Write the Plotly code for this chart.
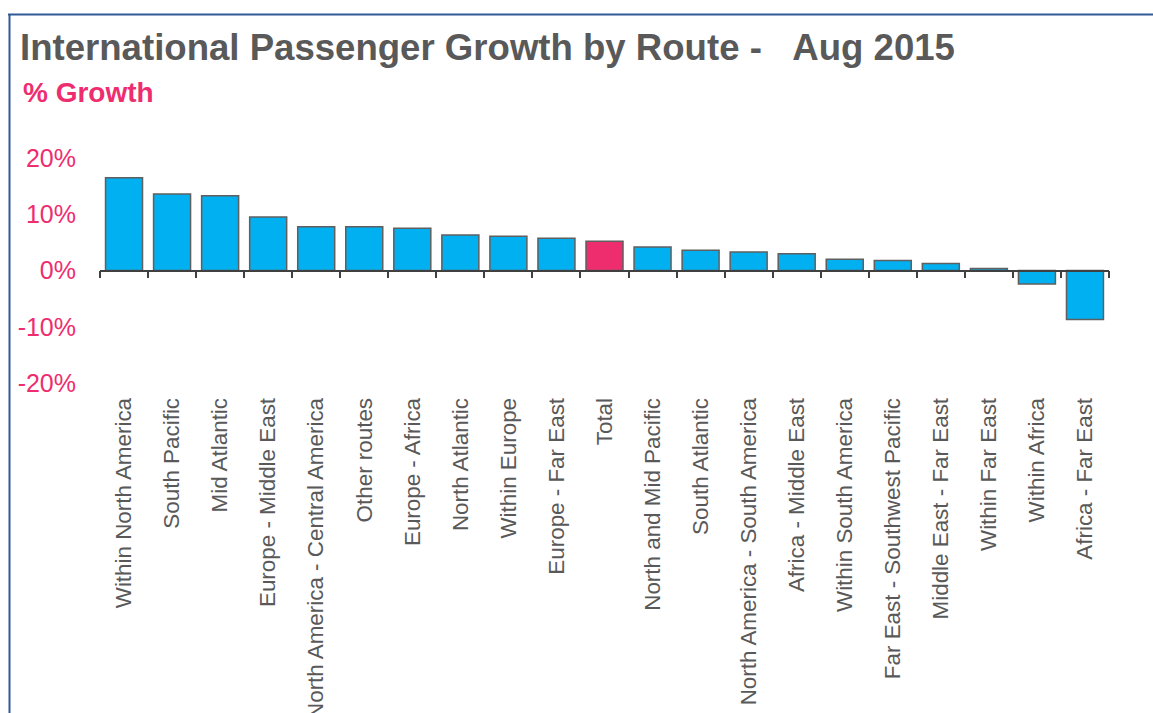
import plotly.graph_objects as go

# International passenger growth by route, August 2015 (% year-on-year)
routes = [
    "Within North America", "South Pacific", "Mid Atlantic", "Europe - Middle East",
    "North America - Central America", "Other routes", "Europe - Africa",
    "North Atlantic", "Within Europe", "Europe - Far East", "Total",
    "North and Mid Pacific", "South Atlantic", "North America - South America",
    "Africa - Middle East", "Within South America", "Far East - Southwest Pacific",
    "Middle East - Far East", "Within Far East", "Within Africa", "Africa - Far East",
]
growth = [16.5, 13.6, 13.3, 9.5, 7.8, 7.8, 7.5, 6.3, 6.1, 5.75, 5.2,
          4.2, 3.6, 3.3, 3.0, 2.0, 1.8, 1.25, 0.35, -2.4, -8.7]
y_ticks = [-20, -10, 0, 10, 20]
y_tick_text = ["-20%", "-10%", "0%", "10%", "20%"]

BLUE = "#00B0F0"
PINK = "#EE2D6F"
GREY_TEXT = "#595959"
FRAME = "#2F5A95"
FONT = "Liberation Sans, Arial, sans-serif"

W, H = 1153, 713
L, R, T, B = 100, 44, 158, 330
pw, ph = W - L - R, H - T - B


def px_x(p):
    return (p - L) / pw


def px_y(p):
    return (H - B - p) / ph


colors = [PINK if r == "Total" else BLUE for r in routes]

fig = go.Figure()
fig.add_trace(go.Bar(
    x=routes, y=growth,
    marker=dict(color=colors, line=dict(color="#5f5f5f", width=1.5)),
    width=0.77, hoverinfo="x+y",
))
# invisible companion trace that carries the zero-line axis with boundary ticks
fig.add_trace(go.Scatter(
    x=routes, y=[0] * len(routes), xaxis="x2", mode="markers",
    marker=dict(opacity=0), hoverinfo="skip", showlegend=False,
))

fig.update_layout(
    width=W, height=H,
    margin=dict(l=L, r=R, t=T, b=B, autoexpand=False),
    paper_bgcolor="white", plot_bgcolor="white",
    showlegend=False,
    font=dict(family=FONT, color=GREY_TEXT),
    title=dict(
        text="<b>International Passenger Growth by Route -\u00a0\u00a0\u00a0Aug 2015</b>",
        font=dict(family=FONT, size=36.6, color=GREY_TEXT),
        xref="container", yref="container",
        x=20 / W, xanchor="left", y=1 - 34 / H, yanchor="top",
    ),
    xaxis=dict(
        type="category", categoryorder="array", categoryarray=routes,
        range=[-0.5, len(routes) - 0.5],
        showline=False, showgrid=False, zeroline=False,
        ticks="outside", ticklen=5, tickcolor="rgba(0,0,0,0)",
        tickangle=-90, tickfont=dict(size=22.4, color=GREY_TEXT),
        fixedrange=True,
    ),
    xaxis2=dict(
        type="category", categoryorder="array", categoryarray=routes,
        range=[-0.5, len(routes) - 0.5],
        overlaying="x", anchor="free", position=0.5,
        showline=True, linecolor="#404040", linewidth=1.5,
        ticks="outside", tickson="boundaries", ticklen=7, tickwidth=1.5,
        tickcolor="#404040", showticklabels=False, showgrid=False,
        zeroline=False, fixedrange=True,
    ),
    yaxis=dict(
        range=[-20, 20], tickvals=y_ticks, ticktext=y_tick_text,
        tickfont=dict(size=25, color=PINK),
        showgrid=False, zeroline=False, showline=False,
        ticks="outside", ticklen=18, tickcolor="rgba(0,0,0,0)",
        fixedrange=True,
    ),
    annotations=[dict(
        text="<b>% Growth</b>", xref="paper", yref="paper",
        x=px_x(21), y=px_y(75), xanchor="left", yanchor="top",
        showarrow=False, font=dict(family=FONT, size=28, color=PINK),
    )],
    shapes=[
        dict(type="line", xref="paper", yref="paper",
             x0=px_x(8), x1=px_x(W + 5), y0=px_y(14.5), y1=px_y(14.5),
             line=dict(color=FRAME, width=2)),
        dict(type="line", xref="paper", yref="paper",
             x0=px_x(9.5), x1=px_x(9.5), y0=px_y(14), y1=px_y(H + 5),
             line=dict(color=FRAME, width=2)),
    ],
)

fig.write_html("out.html")
